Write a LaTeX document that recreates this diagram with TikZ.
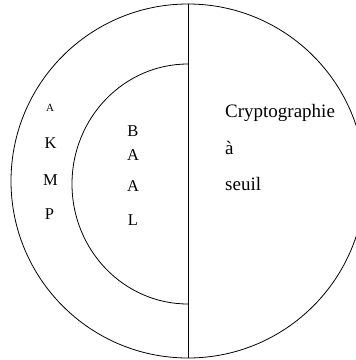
\documentclass[tikz,border=0pt]{standalone}
\usepackage{fontspec}
\setmainfont{Liberation Serif}
\begin{document}
\begin{tikzpicture}[x=1pt,y=-1pt,
  lbl/.style={inner sep=0pt,anchor=base,font=\fontsize{16.5}{18}\selectfont},
  small/.style={inner sep=0pt,anchor=base,font=\fontsize{11}{13}\selectfont},
  rtxt/.style={inner sep=0pt,anchor=base west,font=\fontsize{19}{21}\selectfont},
  ln/.style={line width=0.8pt}]
\useasboundingbox (0,0) rectangle (356,360);
\clip (0,0) rectangle (356,360);
\draw[ln] (188,181) circle (177);
\coordinate (top) at (188,4);
\coordinate (bot) at (188,358);
\draw[ln] (top) -- (bot);
\coordinate (itop) at (188,64);
\draw[ln] (itop) arc[start angle=270,end angle=90,x radius=116,y radius=120];
% left column
\node[small] (a1) at (50,111) {A};
\node[lbl] (k) at (50.5,148) {K};
\node[lbl] (m) at (50.5,185) {M};
\node[lbl] (p) at (49.5,219) {P};
% inner column
\node[lbl] (b) at (133,136) {B};
\node[lbl] (a2) at (133,160) {A};
\node[lbl] (a3) at (133,191) {A};
\node[lbl] (l) at (133,225) {L};
% right
\node[rtxt] (c) at (225,117.7) {Cryptographie};
\node[rtxt] (ag) at (225,154) {à};
\node[rtxt] (s) at (225,190) {seuil};
\end{tikzpicture}
\end{document}
